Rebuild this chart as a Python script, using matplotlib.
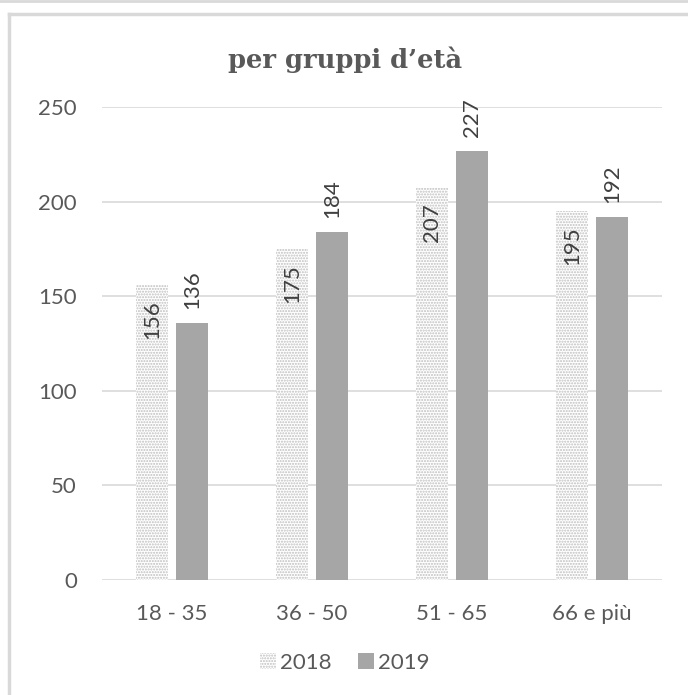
import matplotlib
matplotlib.use("Agg")
import matplotlib.pyplot as plt
import numpy as np
from matplotlib.patches import Rectangle
from matplotlib.lines import Line2D

categories = ["18 - 35", "36 - 50", "51 - 65", "66 e più"]
values_2018 = [156, 175, 207, 195]
values_2019 = [136, 184, 227, 192]
series_names = ["2018", "2019"]
yticks = [0, 50, 100, 150, 200, 250]

plt.rcParams['hatch.linewidth'] = 1.0
fig = plt.figure(figsize=(6.88, 6.95), dpi=100)
W, H = 688, 695

# outer frame lines
fig.add_artist(Line2D([0, 1], [1 - 1/H, 1 - 1/H], color="#d9d9d9", lw=2, transform=fig.transFigure))
fig.add_artist(Line2D([9/W, 1], [1 - 14/H, 1 - 14/H], color="#d9d9d9", lw=2.5, transform=fig.transFigure))
fig.add_artist(Line2D([9/W, 9/W], [0, 1 - 14/H], color="#d9d9d9", lw=2.5, transform=fig.transFigure))

left, right = 102, 662
top, bottom = 107, 580
ax = fig.add_axes([left/W, 1 - bottom/H, (right-left)/W, (bottom-top)/H])
ax.set_ylim(0, 250)
x = np.arange(len(categories))
ax.set_xlim(-0.5, len(categories) - 0.5)
bw = 32/140
gap = 8/140
x18 = x - (bw + gap)/2
x19 = x + (bw + gap)/2

b18 = ax.bar(x18, values_2018, bw, facecolor="white", edgecolor="#bfbfbf", hatch="......", linewidth=0)
b19 = ax.bar(x19, values_2019, bw, color="#a6a6a6", linewidth=0)

lab_font = dict(fontsize=16, color="#404040", family="Lato")
for xi, v in zip(x18, values_2018):
    ax.annotate(str(v), (xi, v), xytext=(0, -11), textcoords="offset points",
                rotation=90, ha="center", va="top", **lab_font)
for xi, v in zip(x19, values_2019):
    ax.annotate(str(v), (xi, v), xytext=(0, 10), textcoords="offset points",
                rotation=90, ha="center", va="bottom", **lab_font)

ax.set_yticks(yticks)
ax.yaxis.grid(True, color="#d9d9d9", lw=1.2)
ax.set_axisbelow(True)
for s in ax.spines.values():
    s.set_visible(False)
ax.tick_params(length=0)
ax.set_xticks(x)
ax.set_xticklabels(categories, fontsize=16, color="#595959", family="Lato")
ax.tick_params(axis="x", pad=17)
ax.tick_params(axis="y", pad=18)
for lbl in ax.get_yticklabels():
    lbl.set_fontsize(16)
    lbl.set_color("#595959")
    lbl.set_family("Lato")

fig.text(345/W, 1 - 60/H, "per gruppi d\u2019età", ha="center", va="center", fontsize=18.5,
         fontweight="bold", color="#595959", family="DejaVu Serif")

h18 = Rectangle((0, 0), 1, 1, facecolor="white", edgecolor="#bfbfbf", hatch="......", linewidth=0)
h19 = Rectangle((0, 0), 1, 1, facecolor="#a6a6a6", linewidth=0)
leg = fig.legend([h18, h19], series_names, loc="center", bbox_to_anchor=(345/W, 1 - 663/H),
                 ncol=2, frameon=False, handlelength=0.7, handleheight=0.7,
                 handletextpad=0.2, columnspacing=1.2, prop={"family": "Lato", "size": 16})
for t in leg.get_texts():
    t.set_color("#595959")

fig.savefig("out.png", dpi=100)
